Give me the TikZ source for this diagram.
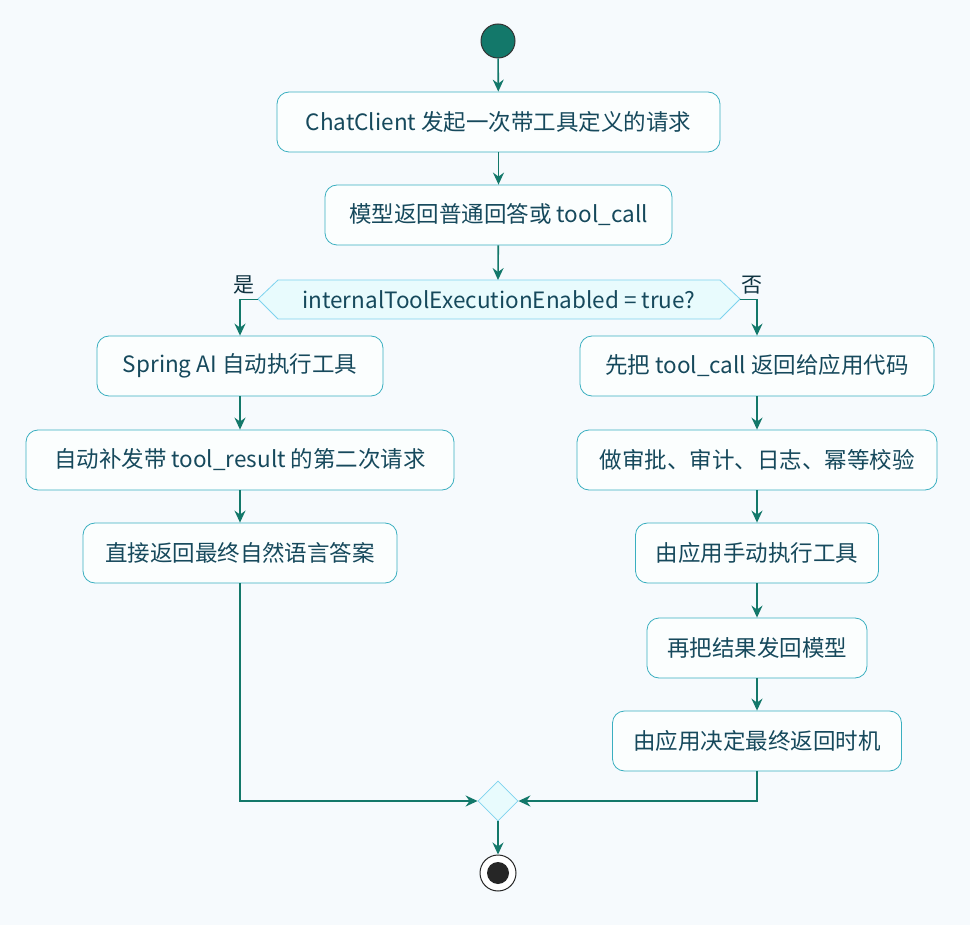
\documentclass[tikz,border=0pt]{standalone}
\usepackage{fontspec}
\setmainfont{Noto Sans CJK SC}
\usetikzlibrary{arrows.meta,shapes.geometric}
\definecolor{bg}{HTML}{F6FAFD}
\definecolor{bfill}{HTML}{FBFEFE}
\definecolor{bline}{HTML}{3AAFC0}
\definecolor{txt}{HTML}{16495C}
\definecolor{arr}{HTML}{13786A}
\definecolor{hfill}{HTML}{E8FBFD}
\definecolor{hline}{HTML}{7DD3EE}
\begin{document}
\begin{tikzpicture}[x=1pt,y=-1pt,
  box/.style={draw=bline,fill=bfill,rounded corners=12pt,line width=0.8pt,text=txt,font=\fontsize{22.5}{26}\selectfont,minimum height=60pt,inner xsep=0pt},
  ar/.style={draw=arr,line width=1.6pt,-{Stealth[length=12pt,width=11pt,inset=4pt]}},
  lbl/.style={text=txt!70!black,font=\fontsize{21}{24}\selectfont}]
\fill[bg] (0,0) rectangle (970,925);
\useasboundingbox (0,0) rectangle (970,925);
\node[circle,fill=arr,draw=black!80,line width=1pt,minimum size=34pt,inner sep=0] (s) at (498,41) {};
\node[box,minimum width=443pt] (b1) at (498.5,122) {ChatClient 发起一次带工具定义的请求};
\node[box,minimum width=347pt] (b2) at (498.5,215) {模型返回普通回答或 tool\_call};
\draw[fill=hfill,draw=hline,line width=0.8pt] (258,299)--(278,280)--(720,280)--(740,299)--(720,319)--(278,319)--cycle;
\node[text=txt,font=\fontsize{22.5}{26}\selectfont,minimum width=482pt,minimum height=39pt,inner sep=0] (d) at (499,299.5) {internalToolExecutionEnabled = true?};
\node[box,minimum width=286pt] (l1) at (240,366) {Spring AI 自动执行工具};
\node[box,minimum width=428pt] (l2) at (240,460) {自动补发带 tool\_result 的第二次请求};
\node[box,minimum width=314pt] (l3) at (240,553) {直接返回最终自然语言答案};
\node[box,minimum width=354pt] (r1) at (757,366) {先把 tool\_call 返回给应用代码};
\node[box,minimum width=360pt] (r2) at (757,460) {做审批、审计、日志、幂等校验};
\node[box,minimum width=243pt] (r3) at (757,553) {由应用手动执行工具};
\node[box,minimum width=220pt] (r4) at (757,648) {再把结果发回模型};
\node[box,minimum width=289pt] (r5) at (757,741) {由应用决定最终返回时机};
\node[diamond,draw=hline,fill=hfill,line width=0.8pt,minimum size=40pt,inner sep=0] (m) at (498,801) {};
\node[circle,draw=black!85,line width=1pt,fill=white,minimum size=36pt,inner sep=0] (e) at (498,873) {};
\fill[black!85] (e) circle (11pt);
\draw[ar] (s)--(b1);
\draw[ar] (b1)--(b2);
\draw[ar] (b2)--(498,280);
\draw[ar] (d.west)-|(l1.north);
\draw[ar] (d.east)-|(r1.north);
\node[lbl] at (244,285) {是};
\node[lbl] at (752,285) {否};
\draw[ar] (l1)--(l2);
\draw[ar] (l2)--(l3);
\draw[ar] (r1)--(r2);
\draw[ar] (r2)--(r3);
\draw[ar] (r3)--(r4);
\draw[ar] (r4)--(r5);
\draw[ar] (l3.south)|-(m.west);
\draw[ar] (r5.south)|-(m.east);
\draw[ar] (m)--(e);
\end{tikzpicture}
\end{document}
